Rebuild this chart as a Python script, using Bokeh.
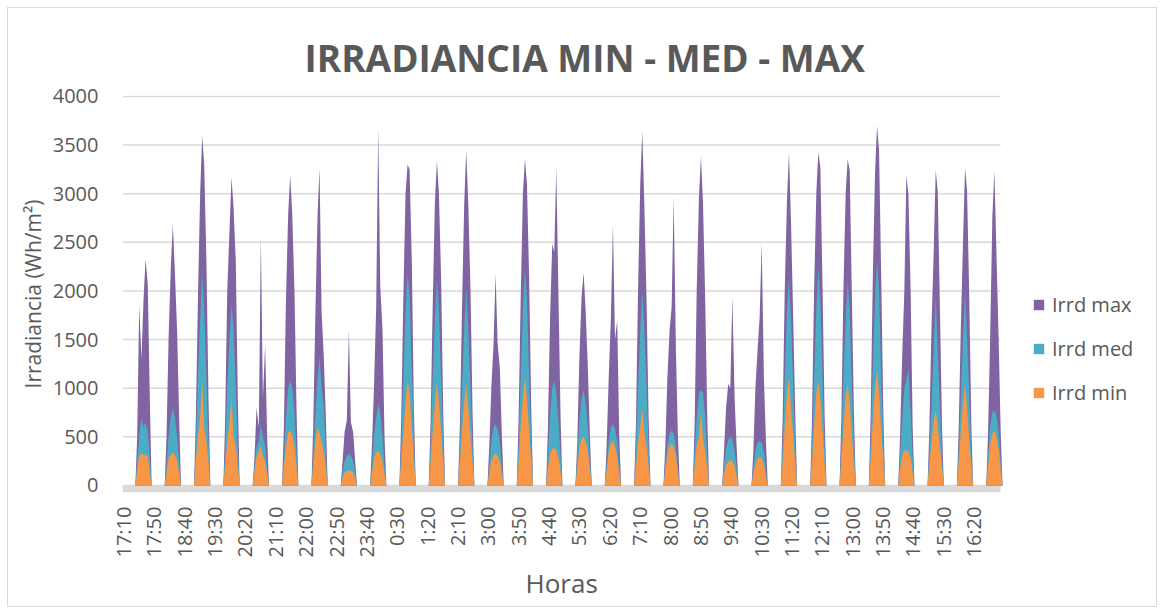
from bokeh.plotting import figure
from bokeh.models import Range1d, FixedTicker, BoxAnnotation, Legend, LegendItem, ColumnDataSource, Title
from bokeh.embed import file_html
from bokeh.resources import INLINE

# ---------------- data ----------------
TICK_LABELS = ["17:10", "17:50", "18:40", "19:30", "20:20", "21:10", "22:00", "22:50",
               "23:40", "0:30", "1:20", "2:10", "3:00", "3:50", "4:40", "5:30", "6:20",
               "7:10", "8:00", "8:50", "9:40", "10:30", "11:20", "12:10", "13:00",
               "13:50", "14:40", "15:30", "16:20"]
Y_TICKS = [0, 500, 1000, 1500, 2000, 2500, 3000, 3500, 4000]
SAMPLES_PER_DAY = 144          # 10-minute samples per day
LABEL_STEP = 149               # categories between two axis labels
N_CATEGORIES = 4309            # categories shown on the horizontal axis
DAY_OFFSETS = [58, 67, 77, 88, 98, 108, 119, 129, 138]   # daylight samples in each day

irrd_max = [
    [0, 500, 1850, 1300, 1900, 2330, 2070, 900, 0],
    [0, 500, 1500, 2245, 2690, 2200, 1600, 700, 0],
    [0, 700, 1900, 3000, 3600, 3300, 2300, 900, 0],
    [0, 700, 2000, 2620, 3170, 2860, 2300, 900, 0],
    [0, 300, 800, 600, 2570, 900, 1450, 500, 0],
    [0, 600, 1900, 2790, 3190, 2800, 2000, 800, 0],
    [0, 600, 1700, 2760, 3270, 1800, 1320, 700, 0],
    [0, 250, 550, 670, 1610, 650, 550, 250, 0],
    [0, 400, 1000, 1830, 3685, 2050, 1600, 500, 0],
    [0, 700, 1900, 3000, 3300, 3250, 2300, 800, 0],
    [0, 650, 1800, 2900, 3340, 3000, 2100, 750, 0],
    [0, 650, 1800, 2900, 3445, 2900, 2000, 750, 0],
    [0, 400, 1000, 1460, 2180, 1460, 1200, 500, 0],
    [0, 700, 1900, 3000, 3360, 3100, 2100, 800, 0],
    [0, 600, 1700, 2485, 2400, 3270, 1900, 700, 0],
    [0, 450, 1300, 1940, 2190, 1800, 1200, 500, 0],
    [0, 400, 1100, 1730, 2690, 1500, 1700, 500, 0],
    [0, 650, 2000, 3100, 3650, 2900, 1900, 700, 0],
    [0, 400, 1100, 1600, 1830, 2965, 1400, 500, 0],
    [0, 650, 2000, 2965, 3390, 2900, 1900, 700, 0],
    [0, 350, 800, 1045, 1000, 1940, 900, 400, 0],
    [0, 350, 1000, 1400, 1730, 2500, 1100, 450, 0],
    [0, 700, 2000, 2930, 3430, 2700, 1700, 700, 0],
    [0, 700, 2000, 3000, 3430, 3270, 2000, 700, 0],
    [0, 700, 2000, 3000, 3360, 3240, 1900, 700, 0],
    [0, 750, 2100, 3200, 3700, 3445, 2100, 750, 0],
    [0, 500, 1300, 2000, 3190, 3000, 2000, 600, 0],
    [0, 600, 1600, 2400, 3240, 3030, 1800, 600, 0],
    [0, 600, 1600, 2500, 3270, 3030, 1900, 600, 0],
    [0, 550, 1500, 2760, 3240, 2400, 1500, 550, 0],
]

irrd_med = [
    [0, 250, 500, 700, 600, 650, 550, 300, 0],
    [0, 200, 500, 700, 800, 700, 500, 250, 0],
    [0, 400, 1100, 1700, 2180, 1800, 1100, 450, 0],
    [0, 350, 1000, 1500, 1870, 1600, 1000, 400, 0],
    [0, 200, 400, 450, 630, 500, 400, 200, 0],
    [0, 300, 700, 1000, 1080, 1000, 750, 350, 0],
    [0, 300, 700, 1100, 1320, 1000, 800, 350, 0],
    [0, 150, 250, 300, 325, 300, 250, 130, 0],
    [0, 200, 500, 700, 840, 750, 500, 200, 0],
    [0, 400, 1100, 1800, 2180, 1950, 1200, 450, 0],
    [0, 400, 1100, 1700, 2125, 1800, 1100, 450, 0],
    [0, 400, 1000, 1600, 2040, 1600, 1000, 400, 0],
    [0, 200, 450, 600, 630, 580, 450, 200, 0],
    [0, 400, 1100, 1800, 2230, 1900, 1100, 450, 0],
    [0, 300, 700, 1000, 1080, 950, 650, 300, 0],
    [0, 280, 650, 900, 980, 850, 600, 280, 0],
    [0, 220, 450, 600, 630, 580, 450, 200, 0],
    [0, 400, 1000, 1600, 2000, 1600, 1000, 400, 0],
    [0, 220, 420, 530, 565, 530, 400, 180, 0],
    [0, 350, 700, 950, 980, 950, 700, 300, 0],
    [0, 200, 380, 470, 500, 470, 350, 180, 0],
    [0, 180, 360, 440, 460, 440, 340, 160, 0],
    [0, 400, 1100, 1800, 2140, 1700, 1000, 400, 0],
    [0, 400, 1100, 1800, 2245, 1900, 1100, 400, 0],
    [0, 400, 1100, 1700, 2100, 1800, 1000, 400, 0],
    [0, 450, 1200, 1900, 2310, 2000, 1100, 450, 0],
    [0, 280, 650, 1000, 1080, 1200, 750, 300, 0],
    [0, 350, 800, 1400, 1940, 1400, 800, 300, 0],
    [0, 350, 900, 1500, 2000, 1500, 900, 300, 0],
    [0, 300, 600, 750, 770, 720, 550, 250, 0],
]

irrd_min = [
    [0, 150, 300, 330, 320, 310, 300, 150, 0],
    [0, 120, 280, 320, 340, 320, 260, 120, 0],
    [0, 250, 500, 700, 1080, 600, 450, 250, 0],
    [0, 200, 450, 650, 900, 500, 400, 200, 0],
    [0, 150, 300, 350, 410, 300, 250, 120, 0],
    [0, 200, 400, 550, 565, 520, 400, 200, 0],
    [0, 200, 450, 600, 550, 450, 350, 180, 0],
    [0, 80, 130, 150, 155, 150, 130, 70, 0],
    [0, 120, 280, 340, 360, 330, 250, 120, 0],
    [0, 250, 550, 850, 1080, 950, 600, 250, 0],
    [0, 250, 550, 850, 1060, 850, 550, 250, 0],
    [0, 250, 550, 850, 1045, 800, 500, 250, 0],
    [0, 130, 250, 310, 325, 310, 250, 120, 0],
    [0, 250, 600, 900, 1100, 900, 550, 250, 0],
    [0, 180, 320, 380, 380, 360, 280, 150, 0],
    [0, 180, 380, 480, 500, 450, 350, 170, 0],
    [0, 150, 350, 440, 460, 400, 300, 130, 0],
    [0, 200, 450, 600, 800, 550, 400, 200, 0],
    [0, 150, 330, 410, 430, 400, 300, 130, 0],
    [0, 200, 400, 500, 770, 480, 350, 180, 0],
    [0, 120, 210, 250, 260, 250, 200, 100, 0],
    [0, 120, 230, 280, 290, 280, 210, 100, 0],
    [0, 250, 600, 950, 1115, 800, 500, 220, 0],
    [0, 250, 600, 950, 1080, 900, 550, 220, 0],
    [0, 250, 600, 900, 1045, 850, 500, 220, 0],
    [0, 280, 650, 1000, 1180, 950, 550, 250, 0],
    [0, 170, 300, 360, 360, 350, 280, 130, 0],
    [0, 220, 450, 650, 770, 600, 400, 180, 0],
    [0, 250, 550, 850, 1045, 800, 450, 200, 0],
    [0, 200, 420, 530, 565, 500, 380, 170, 0],
]

# ---------------- build source ----------------
xs, ymax, ymed, ymin = [], [], [], []
for d in range(len(irrd_max)):
    for j, off in enumerate(DAY_OFFSETS):
        xs.append(d * SAMPLES_PER_DAY + off)
        ymax.append(irrd_max[d][j])
        ymed.append(irrd_med[d][j])
        ymin.append(irrd_min[d][j])
src = ColumnDataSource(dict(x=xs, ymax=ymax, ymed=ymed, ymin=ymin))

TXT = "#595959"
FONT = "Open Sans"
GRID = "#d9d9d9"

# plot area spans the categories; the extra width on the right holds the legend
X0 = -5
X_END = X0 + N_CATEGORIES
PX_PER_CAT = 878 / N_CATEGORIES
X_VIEW_END = X0 + 1036 / PX_PER_CAT

p = figure(width=1150, height=600, output_backend="svg", toolbar_location=None,
           x_range=Range1d(X0, X_VIEW_END), y_range=Range1d(-72, 4010),
           min_border_left=114, min_border_right=0, min_border_top=87, min_border_bottom=116)
p.margin = (7, 0, 0, 7)
p.styles = {"border": "1px solid #d9d9d9"}
p.outline_line_color = None
p.background_fill_color = "white"

# horizontal gridlines limited to the category span
p.xgrid.grid_line_color = None
p.ygrid.grid_line_color = None
p.segment(x0=[X0] * len(Y_TICKS), x1=[X_END] * len(Y_TICKS), y0=Y_TICKS, y1=Y_TICKS,
          line_color=GRID, line_width=1.5)

r_max = p.varea(x="x", y1=0, y2="ymax", source=src, fill_color="#8064A2")
r_med = p.varea(x="x", y1=0, y2="ymed", source=src, fill_color="#4BACC6")
r_min = p.varea(x="x", y1=0, y2="ymin", source=src, fill_color="#F79646")

p.add_layout(BoxAnnotation(left=X0, right=X_END, bottom=-72, top=0, fill_color=GRID,
                           fill_alpha=1.0, line_color=None, level="underlay"))

# title
p.title.text = "IRRADIANCIA MIN - MED - MAX"
p.title.text_font = FONT
p.title.text_font_size = "37px"
p.title.text_font_style = "bold"
p.title.text_color = TXT
p.title.align = "left"
p.title.offset = 182
p.title.standoff = 25

# y axis
p.yaxis.ticker = FixedTicker(ticks=Y_TICKS)
p.yaxis.axis_line_color = None
p.yaxis.major_tick_line_color = None
p.yaxis.minor_tick_line_color = None
p.yaxis.major_label_text_font = FONT
p.yaxis.major_label_text_font_size = "20px"
p.yaxis.major_label_text_color = TXT
p.yaxis.major_label_standoff = 18
p.yaxis.axis_label = "Irradiancia (Wh/m²)"
p.yaxis.axis_label_text_font = FONT
p.yaxis.axis_label_text_font_size = "21px"
p.yaxis.axis_label_text_font_style = "normal"
p.yaxis.axis_label_text_color = TXT
p.yaxis.axis_label_standoff = 3

# x axis
tick_pos = [k * LABEL_STEP for k in range(len(TICK_LABELS))]
p.xaxis.ticker = FixedTicker(ticks=tick_pos)
p.xaxis.major_label_overrides = {t: lab for t, lab in zip(tick_pos, TICK_LABELS)}
p.xaxis.major_label_orientation = 3.14159265 / 2
p.xaxis.axis_line_color = None
p.xaxis.major_tick_line_color = None
p.xaxis.minor_tick_line_color = None
p.xaxis.major_label_text_font = FONT
p.xaxis.major_label_text_font_size = "20px"
p.xaxis.major_label_text_color = TXT
p.xaxis.major_label_standoff = 8

# x axis title, centred under the category span
p.add_layout(Title(text="Horas", align="left", offset=403, standoff=4,
                   text_font=FONT, text_font_size="26px", text_font_style="normal",
                   text_color=TXT), "below")

legend = Legend(items=[LegendItem(label="Irrd max", renderers=[r_max]),
                       LegendItem(label="Irrd med", renderers=[r_med]),
                       LegendItem(label="Irrd min", renderers=[r_min])],
                location=(910, 86))
legend.glyph_width = 13
legend.glyph_height = 13
legend.spacing = 17
legend.padding = 0
legend.margin = 0
legend.border_line_color = None
legend.background_fill_alpha = 0
legend.label_text_font = FONT
legend.label_text_font_size = "20px"
legend.label_text_color = TXT
legend.label_standoff = 7
p.add_layout(legend)

open("out.html", "w").write(file_html(p, INLINE))
